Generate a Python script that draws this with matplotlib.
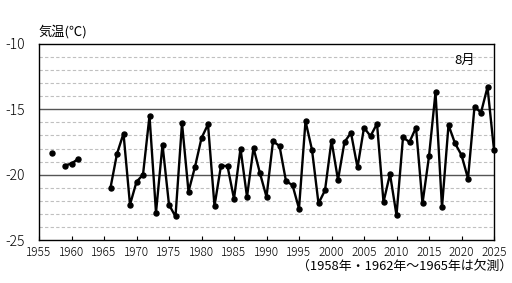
import numpy as np
import matplotlib
matplotlib.use("Agg")
import matplotlib.pyplot as plt

plt.rcParams['font.family'] = ['Noto Sans CJK JP', 'DejaVu Sans']

# August mean temperature, NaN = missing year
years = list(range(1957, 2026))
temps = [-18.35, np.nan, -19.3, -19.15, -18.8, np.nan, np.nan, np.nan, np.nan,
         -21.0, -18.4, -16.85, -22.3, -20.55, -20.0, -15.5, -22.9, -17.7, -22.3,
         -23.2, -16.05, -21.3, -19.4, -17.2, -16.15, -22.4, -19.3, -19.35, -21.85,
         -18.0, -21.7, -17.95, -19.9, -21.7, -17.45, -17.8, -20.5, -20.8, -22.6,
         -15.9, -18.1, -22.2, -21.2, -17.4, -20.4, -17.5, -16.8, -19.45, -16.4,
         -17.05, -16.1, -22.1, -19.95, -23.1, -17.15, -17.5, -16.4, -22.2, -18.6,
         -13.7, -22.5, -16.2, -17.6, -18.5, -20.3, -14.8, -15.25, -13.3, -18.1]

xticks = list(range(1955, 2026, 5))
yticks = [-25, -20, -15, -10]

fig = plt.figure(figsize=(5.12, 2.83), dpi=100)
ax = fig.add_axes([39/512, 1 - 240/283, 455/512, 196/283])

# grid lines
for v in range(-24, -10):
    if v % 5 == 0:
        ax.axhline(v, color='#555555', lw=1.0, zorder=1)
    else:
        ax.axhline(v, color='#c0c0c0', lw=0.8, ls=(0, (3, 2)), zorder=1)

ax.plot(years, temps, color='black', lw=1.7, marker='o', ms=3.6, zorder=3, clip_on=False)

ax.set_xlim(1955, 2025)
ax.set_ylim(-25, -10)
ax.set_xticks(xticks)
ax.set_yticks(yticks)
ax.set_yticklabels(['-25', '-20', '-15', '-10'])
ax.tick_params(axis='x', direction='in', length=3, labelsize=8.5, pad=4)
ax.tick_params(axis='y', length=0, labelsize=10, pad=10)
for lbl in ax.get_xticklabels() + ax.get_yticklabels():
    lbl.set_fontweight('light')
for s in ax.spines.values():
    s.set_linewidth(1.0)
    s.set_color('black')

fig.text(38/512, 1 - 32/283, '気温(℃)', fontsize=9.5, ha='left', va='center')
fig.text(465/512, 1 - 60/283, '8月', fontsize=9.5, ha='center', va='center')
fig.text(512/512, 1 - 266/283, '（1958年・1962年～1965年は欠測）', fontsize=9.3,
         ha='right', va='center')

fig.savefig('out.png', dpi=100)
